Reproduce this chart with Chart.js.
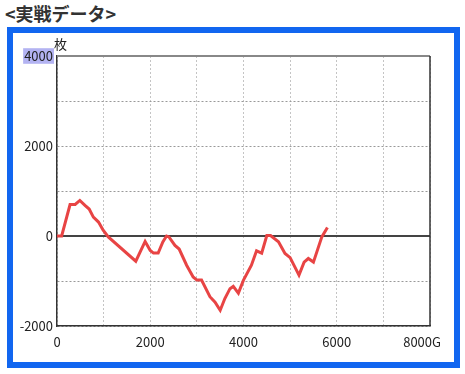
<!DOCTYPE html>
<html>
<head>
<meta charset="utf-8">
<script src="https://cdn.jsdelivr.net/npm/chart.js@4/dist/chart.umd.min.js"></script>
<style>
  html, body { margin: 0; padding: 0; background: #fff; }
  #wrap { position: relative; width: 465px; height: 374px; overflow: hidden; }
  #title { position: absolute; left: 5px; top: 0px; font: bold 18px 'Noto Sans CJK JP', sans-serif; color: #333; }
  #frame { position: absolute; left: 7px; top: 27px; width: 441px; height: 329px; border: 6px solid #1166f0; }
  #unit { position: absolute; left: 54px; top: 34px; font: 13px 'Noto Sans CJK JP', sans-serif; color: #222; }
  #myChart { position: absolute; left: 0; top: 0; }
</style>
</head>
<body>
<div id="wrap">
  <div id="title">&lt;実戦データ&gt;</div>
  <div id="frame"></div>
  <canvas id="myChart" width="465" height="374"></canvas>
  <div id="unit">枚</div>
</div>
<script>
// ゲーム数と差枚数
let games = [0, 100, 280, 390, 490, 600, 690, 780, 890, 990, 1100, 1690, 1890, 2000, 2070, 2170, 2270, 2350, 2400, 2530, 2620, 2780, 2920, 3000, 3100, 3280, 3390, 3500, 3600, 3710, 3780, 3890, 4000, 4170, 4280, 4390, 4500, 4580, 4750, 4890, 5000, 5190, 5300, 5390, 5500, 5680, 5800]
let medals = [0, 0, 700, 700, 790, 680, 600, 420, 310, 130, -20, -560, -120, -320, -380, -380, -130, 0, -20, -210, -290, -650, -910, -980, -980, -1350, -1470, -1650, -1390, -1170, -1120, -1270, -980, -650, -330, -380, 10, 10, -130, -390, -480, -870, -580, -500, -580, -20, 190]
let yTicks = [-2000, 0, 2000, 4000]
let xTicks = [0, 2000, 4000, 6000]
let xLast = 8000

let points = games.map((g, i) => ({ x: g, y: medals[i] }))
let tickFont = { family: "'Noto Sans CJK JP', sans-serif", size: 13 }

// 枠線とゼロライン、最後のラベル
const framePlugin = {
    id: 'frame',
    beforeDatasetsDraw(chart) {
        const c = chart.ctx
        const a = chart.chartArea
        const y0 = chart.scales.y.getPixelForValue(0)
        c.save()
        c.strokeStyle = '#444'
        c.lineWidth = 2
        c.beginPath()
        c.moveTo(a.left, y0)
        c.lineTo(a.right, y0)
        c.stroke()
        c.strokeStyle = '#888'
        c.beginPath()
        c.moveTo(a.left, a.top)
        c.lineTo(a.right, a.top)
        c.stroke()
        c.strokeStyle = '#333'
        c.lineWidth = 1.5
        c.beginPath()
        c.moveTo(a.right, a.top)
        c.lineTo(a.right, a.bottom)
        c.stroke()
        c.restore()
    },
    afterDraw(chart) {
        const c = chart.ctx
        const xs = chart.scales.x
        c.save()
        c.font = "13px 'Noto Sans CJK JP', sans-serif"
        c.fillStyle = '#222'
        c.textAlign = 'right'
        c.textBaseline = 'middle'
        c.fillText(xLast + 'G', xs.getPixelForValue(xLast) + 11, 342)
        c.restore()
    }
}

var ctx = document.getElementById('myChart');

var myChart = new Chart(ctx, {
    type: 'line',
    data: {
        datasets: [{
            data: points,
            borderColor: '#e84444',
            borderWidth: 3,
            pointRadius: 0,
            tension: 0
        }]
    },
    options: {
        responsive: false,
        animation: false,
        layout: { padding: { top: 56, right: 35, bottom: 10, left: 0 } },
        plugins: { legend: { display: false }, tooltip: { enabled: false } },
        scales: {
            x: {
                type: 'linear',
                min: 0,
                max: 8000,
                afterFit: (s) => { s.height = 38 },
                afterBuildTicks: (s) => { s.ticks = [0, 1000, 2000, 3000, 4000, 5000, 6000, 7000, 8000].map(v => ({ value: v })) },
                grid: { color: '#c4c4c4', lineWidth: 1, drawTicks: false },
                border: { color: '#333', width: 1.5, dash: [2, 2] },
                ticks: {
                    font: tickFont,
                    color: '#222',
                    padding: 8,
                    maxRotation: 0,
                    autoSkip: false,
                    callback: (v) => xTicks.includes(v) ? String(v) : ''
                }
            },
            y: {
                min: -2000,
                max: 4000,
                afterFit: (s) => { s.width = 57 },
                afterBuildTicks: (s) => { s.ticks = [-2000, -1000, 0, 1000, 2000, 3000, 4000].map(v => ({ value: v })) },
                grid: { color: '#999', lineWidth: 1, drawTicks: false },
                border: { color: '#333', width: 1.5, dash: [2, 2] },
                ticks: {
                    font: tickFont,
                    color: '#222',
                    padding: 4,
                    autoSkip: false,
                    showLabelBackdrop: (c) => c.tick && c.tick.value == 4000,
                    backdropColor: '#b3b3f2',
                    backdropPadding: { top: 0, bottom: 0, left: 1, right: 1 },
                    callback: (v) => yTicks.includes(v) ? String(v) : ''
                }
            }
        }
    },
    plugins: [framePlugin]
});
</script>
</body>
</html>
